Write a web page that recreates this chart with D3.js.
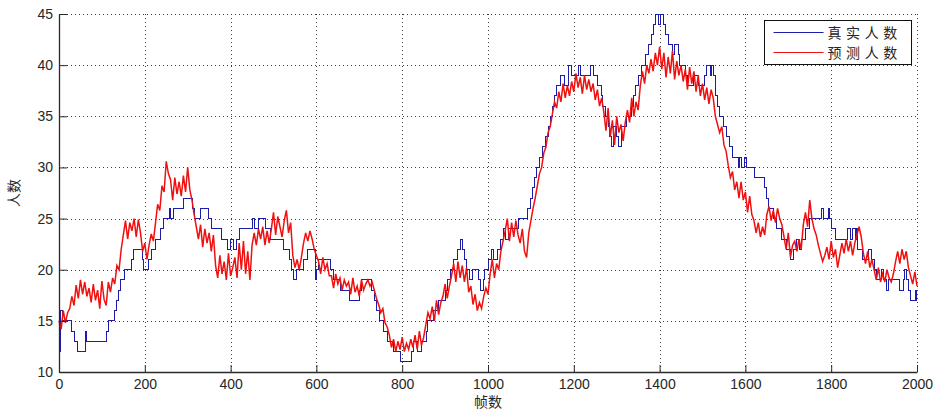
<!DOCTYPE html>
<html>
<head>
<meta charset="utf-8">
<script src="https://cdn.jsdelivr.net/npm/d3@7"></script>
<style>
  html, body { margin: 0; padding: 0; background: #fff; }
  svg { display: block; }
  text { font-family: "Liberation Sans", Arial, sans-serif; fill: #262626; }
  .cjk { font-family: "Noto Sans CJK SC", sans-serif; }
</style>
</head>
<body>
<svg id="chart" width="934" height="412"></svg>
<script>
// Axis ticks
const xTicks = [0, 200, 400, 600, 800, 1000, 1200, 1400, 1600, 1800, 2000];
const yTicks = [10, 15, 20, 25, 30, 35, 40, 45];

// Series names
const seriesNames = ["真实人数", "预测人数"];

// Ground-truth count: frame where the count changes, and the new count
const trueFrames = [
  0, 3, 8, 30, 36, 42, 61, 64, 111, 116, 130, 134, 138, 143, 152, 169, 173, 194, 197, 208,
  215, 225, 237, 243, 257, 260, 268, 290, 311, 317, 329, 348, 356, 379, 392, 399, 407, 414, 420, 450,
  456, 464, 481, 492, 523, 537, 543, 546, 554, 570, 580, 598, 601, 606, 632, 640, 656, 678, 701, 706,
  729, 735, 740, 748, 756, 765, 780, 795, 821, 826, 835, 845, 856, 860, 872, 884, 900, 906, 912, 919,
  928, 935, 940, 946, 951, 958, 963, 978, 983, 990, 993, 1000, 1008, 1012, 1023, 1029, 1036, 1040, 1048, 1070,
  1091, 1099, 1104, 1108, 1113, 1120, 1127, 1135, 1140, 1145, 1150, 1155, 1160, 1170, 1178, 1188, 1195, 1210, 1216, 1240,
  1246, 1256, 1264, 1268, 1275, 1280, 1284, 1288, 1292, 1300, 1305, 1312, 1323, 1335, 1340, 1343, 1350, 1358, 1366, 1374,
  1382, 1386, 1390, 1397, 1402, 1410, 1413, 1420, 1430, 1434, 1443, 1447, 1460, 1465, 1480, 1490, 1505, 1510, 1518, 1522,
  1526, 1530, 1534, 1540, 1548, 1556, 1562, 1570, 1583, 1587, 1591, 1599, 1603, 1622, 1645, 1649, 1653, 1665, 1672, 1684,
  1696, 1704, 1711, 1719, 1727, 1731, 1739, 1750, 1778, 1782, 1794, 1797, 1800, 1809, 1837, 1845, 1850, 1857, 1859, 1862,
  1872, 1888, 1895, 1902, 1906, 1918, 1922, 1929, 1933, 1960, 1968, 1972, 1976, 1980, 1984, 1996, 1998, 2000
];
const trueCounts = [
  12, 16, 15, 14, 13, 12, 14, 13, 14, 15, 16, 17, 18, 19, 20, 21, 22, 21, 20, 21,
  22, 23, 24, 25, 26, 25, 26, 27, 26, 25, 26, 25, 24, 23, 22, 23, 22, 23, 24, 25,
  24, 25, 24, 23, 22, 21, 20, 19, 20, 21, 22, 19, 20, 21, 20, 19, 18, 17, 18, 19,
  18, 17, 16, 15, 14, 13, 12, 11, 12, 13, 12, 13, 14, 15, 16, 17, 18, 19, 20, 21,
  22, 23, 22, 21, 20, 19, 20, 19, 18, 19, 20, 21, 22, 21, 22, 23, 24, 23, 24, 25,
  26, 27, 28, 29, 30, 31, 32, 33, 34, 35, 36, 37, 38, 39, 38, 40, 39, 40, 39, 40,
  39, 38, 37, 36, 35, 34, 33, 32, 34, 33, 32, 34, 35, 36, 37, 38, 39, 40, 41, 42,
  43, 44, 45, 44, 45, 44, 43, 42, 41, 42, 41, 40, 39, 38, 39, 38, 39, 40, 39, 40,
  39, 37, 36, 35, 34, 33, 32, 31, 30, 31, 30, 31, 30, 29, 28, 27, 26, 25, 24, 23,
  22, 21, 22, 23, 22, 23, 24, 25, 26, 25, 26, 25, 24, 23, 24, 23, 24, 23, 24, 22,
  21, 22, 21, 20, 19, 20, 19, 18, 19, 18, 19, 20, 19, 18, 17, 18, 17, 17
];

// Predicted count, one estimate every 5 frames (frames 0..2000)
const predStep = 5;
const predCounts = [
  15.0, 14.2, 16.0, 14.8, 15.8,                         // 0-20
  16.2, 17.4, 16.5,                                     // 25-35
  18.5, 17.2, 19.0, 17.6, 18.8, 17.4,                   // 40-65
  18.2, 16.8, 18.6, 17.0, 18.0, 16.2, 18.9, 17.1,       // 70-105
  16.5, 18.8,                                           // 110-115
  17.8, 19.2, 18.6, 20.4, 20.0, 22.0,                   // 120-145
  23.4, 24.8, 23.0, 24.6, 23.8, 25.0, 23.2, 24.9, 23.6, // 150-190
  21.8, 22.6, 21.0,                                     // 195-205
  22.4, 23.5, 22.8,                                     // 210-220
  24.6, 26.4, 25.8, 28.2, 27.6,                         // 225-245
  30.6, 29.4,                                           // 250-255
  28.8, 26.8, 29.0, 27.4,                               // 260-275
  28.6, 27.2, 29.2, 27.6, 30.0, 27.8,                   // 280-305
  26.8, 25.4, 24.2,                                     // 310-320
  23.0, 24.4, 22.2, 24.0, 22.6, 23.6, 21.8, 23.4,       // 325-360
  20.4, 19.2, 21.4, 19.6, 20.8, 19.0, 21.6, 19.4, 20.2, 21.2, // 365-410
  19.2, 22.6, 20.0, 22.8, 19.6, 21.8, 19.0, 22.4,       // 415-450
  23.6, 22.4, 24.0,                                     // 455-465
  23.0, 24.2, 22.4, 23.8, 22.6,                         // 470-490
  24.0, 25.6, 23.4, 25.2, 24.2, 23.2, 24.8, 25.8, 23.6, 24.6, // 495-540
  21.4, 20.2, 21.0, 20.0, 21.2,                         // 545-565
  22.6, 23.6, 22.8, 23.8, 23.0,                         // 570-590
  22.0, 21.4,                                           // 595-600
  20.8, 19.6, 21.2, 20.0, 20.6, 19.4,                   // 605-630
  19.4, 18.2, 19.6, 18.6, 19.2, 18.0, 19.0, 18.4,       // 635-670
  18.8, 17.6, 19.2, 17.8, 18.4, 17.4, 19.0, 18.0,       // 675-710
  18.6, 19.0, 18.4, 18.8,                               // 715-730
  18.0, 17.2, 16.6,                                     // 735-745
  15.8, 16.2, 14.8, 14.4, 13.6,                         // 750-770
  12.4, 13.2, 12.0, 13.0, 12.2, 13.4, 12.0, 12.8, 12.2, 13.2, // 775-820
  12.4, 13.6, 12.2, 14.0, 12.6, 13.4,                   // 825-850
  14.6, 15.8, 15.2,                                     // 855-865
  16.4, 15.0, 17.0, 15.6, 16.8,                         // 870-890
  17.4, 18.6, 17.2, 18.4,                               // 895-910
  19.4, 20.6, 18.8, 20.8, 19.2, 20.4, 18.8, 20.2,       // 915-950
  17.8, 18.4, 16.6, 17.6, 16.0, 16.8, 16.2,             // 955-985
  17.4, 18.2, 17.6,                                     // 990-1000
  19.6, 21.0, 19.2, 20.6, 20.0,                         // 1005-1025
  21.8, 22.8,                                           // 1030-1035
  23.8, 25.0, 22.8, 24.6, 23.2, 24.8, 23.4,             // 1040-1070
  22.6, 24.0, 21.8, 21.2,                               // 1075-1090
  23.6, 24.8, 26.0,                                     // 1095-1105
  27.0, 28.2, 29.4, 30.0, 31.4, 32.0, 33.4, 34.0,       // 1110-1145
  35.2, 36.4, 35.8, 37.4,                               // 1150-1165
  36.4, 38.2, 36.8, 38.0, 37.0,                         // 1170-1190
  38.4, 37.4, 39.2, 37.8, 38.8, 37.2, 39.0, 37.6, 38.6, 37.4, 38.2, // 1195-1245
  36.6, 37.6, 36.0, 36.8,                               // 1250-1265
  35.4, 33.6, 35.8, 33.0, 34.6, 32.2, 35.0, 33.4, 34.2, 32.6, 34.4, // 1270-1320
  35.6, 34.4, 36.8, 35.0, 36.4, 35.6,                   // 1325-1350
  38.0, 39.4, 38.2, 40.0, 39.2, 40.6, 39.4, 41.2, 40.0, 41.8, // 1355-1400
  39.6, 41.2, 38.8, 40.8, 39.2, 41.4, 38.6, 40.4, 39.0, // 1405-1445
  40.0, 38.4, 39.6, 37.6, 39.8, 38.2, 39.4, 37.4, 39.0, // 1450-1490
  37.0, 38.2, 36.6, 37.8, 36.2, 37.6, 36.8,             // 1495-1525
  35.0, 34.2, 33.4, 34.0, 32.2, 31.6,                   // 1530-1555
  30.2, 29.0, 29.6, 27.8, 28.6, 27.0,                   // 1560-1585
  28.6, 26.8, 27.6, 25.6, 27.2, 25.4,                   // 1590-1615
  24.8, 23.6, 24.6, 23.2, 24.2, 23.4,                   // 1620-1645
  25.4, 26.2, 24.8, 25.8, 24.6, 26.0, 25.0, 24.4,       // 1650-1685
  23.2, 22.0, 23.6, 21.2, 22.4,                         // 1690-1710
  22.8, 21.8, 23.0, 22.0,                               // 1715-1730
  24.4, 25.6, 24.2, 26.8, 25.0,                         // 1735-1755
  24.0, 23.4,                                           // 1760-1765
  22.4, 21.6, 20.8, 21.4,                               // 1770-1785
  22.2, 21.0, 22.8, 21.2, 22.0, 20.2, 21.4,             // 1790-1820
  22.6, 21.6, 23.0, 21.8, 22.8, 21.4, 22.6,             // 1825-1855
  23.4, 24.2, 23.2,                                     // 1860-1870
  21.6, 20.6, 21.8, 20.2, 21.0,                         // 1875-1895
  20.0, 19.0, 20.2, 18.8, 19.6, 18.8, 20.0, 19.2, 18.8, 19.6, // 1900-1945
  20.8, 21.8, 20.6, 22.0, 21.0, 21.8,                   // 1950-1975
  20.2, 19.4, 18.6, 19.8, 18.4                          // 1980-2000
];

// Layout
const margin = { left: 59, top: 14, right: 17, bottom: 40 };
const W = 934, H = 412;
const plotW = W - margin.left - margin.right;
const plotH = H - margin.top - margin.bottom;

const svg = d3.select("#chart");
const g = svg.append("g").attr("transform", `translate(${margin.left},${margin.top})`);

const x = d3.scaleLinear().domain([0, 2000]).range([0, plotW]);
const y = d3.scaleLinear().domain([10, 45]).range([plotH, 0]);

// Dotted grid
const gridColor = "#3a3a3a";
g.append("g").selectAll("line").data(xTicks.filter(d => d > 0)).join("line")
  .attr("x1", d => Math.round(x(d)) + 0.5).attr("x2", d => Math.round(x(d)) + 0.5)
  .attr("y1", 0).attr("y2", plotH)
  .attr("stroke", gridColor).attr("stroke-width", 1).attr("stroke-dasharray", "1,3")
  .attr("shape-rendering", "crispEdges");
g.append("g").selectAll("line").data(yTicks.filter(d => d > 10)).join("line")
  .attr("x1", 0).attr("x2", plotW)
  .attr("y1", d => Math.round(y(d)) + 0.5).attr("y2", d => Math.round(y(d)) + 0.5)
  .attr("stroke", gridColor).attr("stroke-width", 1).attr("stroke-dasharray", "1,3")
  .attr("shape-rendering", "crispEdges");

// Series lines
const trueData = trueFrames.map((f, i) => [f, trueCounts[i]]);
const predData = predCounts.map((v, i) => [i * predStep, v]);

g.append("path").datum(trueData)
  .attr("fill", "none").attr("stroke", "#1c1ca8").attr("stroke-width", 1)
  .attr("shape-rendering", "crispEdges")
  .attr("d", d3.line().x(d => x(d[0])).y(d => y(d[1])).curve(d3.curveStepAfter));

g.append("path").datum(predData)
  .attr("fill", "none").attr("stroke", "#f01010").attr("stroke-width", 1.5)
  .attr("stroke-linejoin", "miter")
  .attr("d", d3.line().x(d => x(d[0])).y(d => y(d[1])));

// Axes (ticks point inward)
const axisColor = "#2a2a2a";
const xAxis = g.append("g").attr("transform", `translate(0,${plotH})`)
  .call(d3.axisBottom(x).tickValues(xTicks).tickFormat(d3.format("d")).tickSizeInner(-7).tickSizeOuter(0).tickPadding(7));
const yAxis = g.append("g")
  .call(d3.axisLeft(y).tickValues(yTicks).tickFormat(d3.format("d")).tickSizeInner(-8).tickSizeOuter(0).tickPadding(6));
[xAxis, yAxis].forEach(a => {
  a.select(".domain").attr("stroke", axisColor).attr("stroke-width", 1.3);
  a.selectAll(".tick line").attr("stroke", axisColor);
  a.selectAll(".tick text").attr("fill", "#262626")
    .style("font-family", "'Liberation Sans', Arial, sans-serif").style("font-size", "14px");
});

// Axis titles
svg.append("text").attr("class", "cjk")
  .attr("x", margin.left + plotW / 2).attr("y", 407)
  .attr("text-anchor", "middle").style("font-size", "14px").text("帧数");
svg.append("text").attr("class", "cjk")
  .attr("transform", `translate(19,${margin.top + plotH / 2}) rotate(-90)`)
  .attr("text-anchor", "middle").style("font-size", "14px").text("人数");

// Legend
const lg = svg.append("g").attr("transform", "translate(764.5,20.5)");
lg.append("rect").attr("width", 147).attr("height", 44)
  .attr("fill", "#fff").attr("stroke", "#111").attr("stroke-width", 1);
const legendColors = ["#1c1ca8", "#f01010"];
seriesNames.forEach((name, i) => {
  const yy = 12 + i * 20;
  lg.append("line").attr("x1", 9).attr("x2", 59).attr("y1", yy).attr("y2", yy)
    .attr("stroke", legendColors[i]).attr("stroke-width", 1);
  lg.append("text").attr("class", "cjk").attr("x", 63).attr("y", yy + 5)
    .style("font-size", "14px").style("letter-spacing", "4.6px").text(name);
});
</script>
</body>
</html>
